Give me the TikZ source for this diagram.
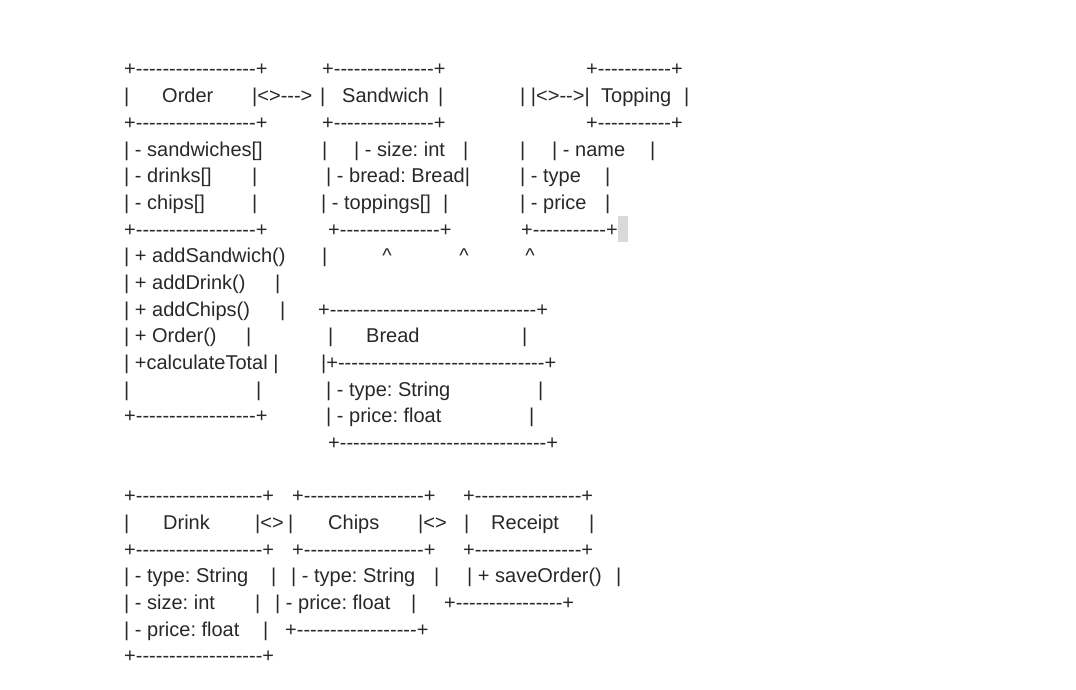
\documentclass[tikz,border=0pt]{standalone}
\usepackage{fontspec}
\setmainfont{Liberation Sans}
\definecolor{InkGray}{RGB}{40,40,40}
\definecolor{CursorGray}{RGB}{217,217,217}
\newcommand{\asciirule}[1]{+\foreach\rulei in {1,...,#1}{-}+}
\tikzset{
	txt/.style={anchor=base west,inner sep=0pt,text=InkGray,font=\fontsize{20}{24}\selectfont\frenchspacing},
	caret/.style={txt,anchor=base},
}
\begin{document}
\begin{tikzpicture}[x=1pt,y=-26.68pt]
			\useasboundingbox (0pt,76pt) rectangle (1076pt,-614pt);
			% top row: Order, Sandwich, Topping
			\node[txt] (ordTop) at (124,0) {\asciirule{18}};
			\node[txt] (sandTop) at (322,0) {\asciirule{15}};
			\node[txt] (topTop) at (586,0) {\asciirule{11}};
			\node[txt] (ordL) at (124,1) {|};
			\node[txt] (ordName) at (162,1) {Order};
			\node[txt] (ordLink) at (252,1) {|<>-{}-{}->};
			\node[txt] (sandL) at (320,1) {|};
			\node[txt] (sandName) at (342,1) {Sandwich};
			\node[txt] (sandR) at (438,1) {|};
			\node[txt] (topLink) at (520,1) {| |<>-{}->|};
			\node[txt] (topName) at (601,1) {Topping};
			\node[txt] (topR) at (684,1) {|};
			\node[txt] (ordMid) at (124,2) {\asciirule{18}};
			\node[txt] (sandMid) at (322,2) {\asciirule{15}};
			\node[txt] (topMid) at (586,2) {\asciirule{11}};
			\node[txt] (ordF1) at (124,3) {| - sandwiches[]};
			\node[txt] (ordF1r) at (322,3) {|};
			\node[txt] (sandF1) at (354,3) {| - size: int};
			\node[txt] (sandF1r) at (463,3) {|};
			\node[txt] (topF1l) at (520,3) {|};
			\node[txt] (topF1) at (552,3) {| - name};
			\node[txt] (topF1r) at (650,3) {|};
			\node[txt] (ordF2) at (124,4) {| - drinks[]};
			\node[txt] (ordF2r) at (252,4) {|};
			\node[txt] (sandF2) at (326,4) {| - bread: Bread|};
			\node[txt] (topF2) at (520,4) {| - type};
			\node[txt] (topF2r) at (605,4) {|};
			\node[txt] (ordF3) at (124,5) {| - chips[]};
			\node[txt] (ordF3r) at (252,5) {|};
			\node[txt] (sandF3) at (321,5) {| - toppings[]};
			\node[txt] (sandF3r) at (443,5) {|};
			\node[txt] (topF3) at (520,5) {| - price};
			\node[txt] (topF3r) at (605,5) {|};
			\node[txt] (ordSep) at (124,6) {\asciirule{18}};
			\node[txt] (sandBot) at (328,6) {\asciirule{15}};
			\node[txt] (topBot) at (521,6) {\asciirule{11}};
			\fill[CursorGray] (618,5.25) rectangle (628,6.22);
			% Order methods and Bread
			\node[txt] (ordM1) at (124,7) {| + addSandwich()};
			\node[txt] (ordM1r) at (322,7) {|};
			\node[caret] (up1) at (387,7) {\textasciicircum};
			\node[caret] (up2) at (464,7) {\textasciicircum};
			\node[caret] (up3) at (530,7) {\textasciicircum};
			\node[txt] (ordM2) at (124,8) {| + addDrink()};
			\node[txt] (ordM2r) at (275,8) {|};
			\node[txt] (ordM3) at (124,9) {| + addChips()};
			\node[txt] (ordM3r) at (280,9) {|};
			\node[txt] (breadTop) at (318,9) {\asciirule{31}};
			\node[txt] (ordM4) at (124,10) {| + Order()};
			\node[txt] (ordM4r) at (246,10) {|};
			\node[txt] (breadL) at (328,10) {|};
			\node[txt] (breadName) at (366,10) {Bread};
			\node[txt] (breadR) at (522,10) {|};
			\node[txt] (ordM5) at (124,11) {| +calculateTotal |};
			\node[txt] (breadMid) at (321,11) {|\asciirule{31}};
			\node[txt] (ordM6l) at (124,12) {|};
			\node[txt] (ordM6r) at (256,12) {|};
			\node[txt] (breadF1) at (326,12) {| - type: String};
			\node[txt] (breadF1r) at (538,12) {|};
			\node[txt] (ordBot) at (124,13) {\asciirule{18}};
			\node[txt] (breadF2) at (326,13) {| - price: float};
			\node[txt] (breadF2r) at (529,13) {|};
			\node[txt] (breadBot) at (328,14) {\asciirule{31}};
			% bottom row: Drink, Chips, Receipt
			\node[txt] (drinkTop) at (124,16) {\asciirule{19}};
			\node[txt] (chipsTop) at (292,16) {\asciirule{18}};
			\node[txt] (recTop) at (463,16) {\asciirule{16}};
			\node[txt] (drinkL) at (124,17) {|};
			\node[txt] (drinkName) at (163,17) {Drink};
			\node[txt] (drinkLink) at (255,17) {|<>};
			\node[txt] (chipsL) at (288,17) {|};
			\node[txt] (chipsName) at (328,17) {Chips};
			\node[txt] (chipsLink) at (418,17) {|<>};
			\node[txt] (recL) at (464,17) {|};
			\node[txt] (recName) at (491,17) {Receipt};
			\node[txt] (recR) at (589,17) {|};
			\node[txt] (drinkMid) at (124,18) {\asciirule{19}};
			\node[txt] (chipsMid) at (292,18) {\asciirule{18}};
			\node[txt] (recMid) at (463,18) {\asciirule{16}};
			\node[txt] (drinkF1) at (124,19) {| - type: String};
			\node[txt] (drinkF1r) at (271,19) {|};
			\node[txt] (chipsF1) at (291,19) {| - type: String};
			\node[txt] (chipsF1r) at (434,19) {|};
			\node[txt] (recM1) at (467,19) {| + saveOrder()};
			\node[txt] (recM1r) at (616,19) {|};
			\node[txt] (drinkF2) at (124,20) {| - size: int};
			\node[txt] (drinkF2r) at (255,20) {|};
			\node[txt] (chipsF2) at (275,20) {| - price: float};
			\node[txt] (chipsF2r) at (411,20) {|};
			\node[txt] (recBot) at (444,20) {\asciirule{16}};
			\node[txt] (drinkF3) at (124,21) {| - price: float};
			\node[txt] (drinkF3r) at (263,21) {|};
			\node[txt] (chipsBot) at (285,21) {\asciirule{18}};
			\node[txt] (drinkBot) at (124,22) {\asciirule{19}};
		\end{tikzpicture}
\end{document}
